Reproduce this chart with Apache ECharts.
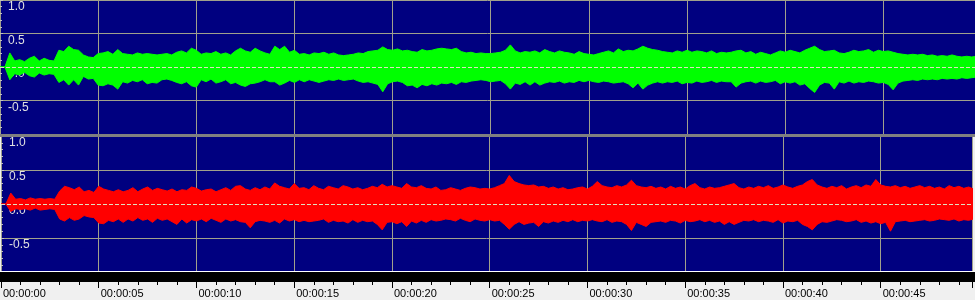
<!DOCTYPE html>
<html>
<head>
<meta charset="utf-8">
<script src="https://cdn.jsdelivr.net/npm/echarts@6/dist/echarts.min.js"></script>
<style>
html,body{margin:0;padding:0;background:#f0f0f0;}
#c{width:975px;height:300px;}
</style>
</head>
<body>
<div id="c"></div>
<script>
// seconds per envelope bin
const binSeconds = 0.25;
const timeMax = 49.67;
const tickSeconds = [0, 5, 10, 15, 20, 25, 30, 35, 40, 45];
const ampTicks = [-1, -0.5, 0, 0.5, 1];

// Left channel (green) envelope: peak and trough per bin
const leftUp = [
0, 0, 0.21, 0.09, 0.11, 0.08, 0.13, 0.16, 0.09, 0.13,
0.10, 0.09, 0.25, 0.23, 0.31, 0.26, 0.25, 0.18, 0.15, 0.14,
0.20, 0.21, 0.23, 0.19, 0.26, 0.20, 0.19, 0.18, 0.21, 0.19,
0.20, 0.19, 0.18, 0.19, 0.20, 0.18, 0.22, 0.24, 0.21, 0.28,
0.25, 0.19, 0.21, 0.20, 0.23, 0.19, 0.21, 0.18, 0.24, 0.28,
0.24, 0.22, 0.28, 0.24, 0.21, 0.19, 0.31, 0.26, 0.31, 0.22,
0.25, 0.19, 0.20, 0.18, 0.21, 0.20, 0.22, 0.19, 0.21, 0.18,
0.17, 0.18, 0.19, 0.21, 0.20, 0.23, 0.24, 0.25, 0.30, 0.26,
0.25, 0.27, 0.24, 0.25, 0.23, 0.22, 0.26, 0.24, 0.25, 0.27,
0.28, 0.27, 0.26, 0.28, 0.23, 0.21, 0.22, 0.20, 0.21, 0.20,
0.20, 0.21, 0.22, 0.25, 0.33, 0.24, 0.21, 0.23, 0.22, 0.24,
0.21, 0.26, 0.23, 0.21, 0.24, 0.22, 0.21, 0.19, 0.23, 0.20,
0.19, 0.18, 0.20, 0.22, 0.24, 0.21, 0.27, 0.23, 0.25, 0.24,
0.27, 0.31, 0.28, 0.26, 0.25, 0.23, 0.22, 0.21, 0.24, 0.22,
0.25, 0.22, 0.24, 0.23, 0.21, 0.24, 0.20, 0.22, 0.21, 0.22,
0.24, 0.25, 0.21, 0.23, 0.19, 0.22, 0.20, 0.18, 0.21, 0.24,
0.22, 0.25, 0.23, 0.21, 0.25, 0.28, 0.31, 0.26, 0.23, 0.24,
0.25, 0.21, 0.20, 0.22, 0.25, 0.23, 0.24, 0.26, 0.22, 0.25,
0.23, 0.24, 0.22, 0.20, 0.19, 0.18, 0.19, 0.18, 0.19, 0.17,
0.18, 0.16, 0.17, 0.16, 0.18, 0.16, 0.15, 0.16, 0.15, 0.16
];
const leftLo = [
0, 0, -0.19, -0.10, -0.12, -0.08, -0.13, -0.15, -0.09, -0.12,
-0.10, -0.11, -0.23, -0.19, -0.27, -0.19, -0.27, -0.14, -0.18, -0.17,
-0.27, -0.28, -0.25, -0.27, -0.33, -0.22, -0.24, -0.20, -0.22, -0.19,
-0.25, -0.23, -0.24, -0.19, -0.18, -0.20, -0.23, -0.25, -0.22, -0.28,
-0.30, -0.19, -0.22, -0.18, -0.24, -0.22, -0.19, -0.25, -0.23, -0.27,
-0.29, -0.25, -0.24, -0.22, -0.19, -0.22, -0.22, -0.27, -0.24, -0.20,
-0.23, -0.19, -0.22, -0.19, -0.21, -0.23, -0.21, -0.19, -0.20, -0.18,
-0.20, -0.19, -0.18, -0.21, -0.23, -0.22, -0.24, -0.26, -0.37, -0.25,
-0.22, -0.21, -0.23, -0.28, -0.27, -0.31, -0.26, -0.28, -0.25, -0.27,
-0.24, -0.25, -0.23, -0.26, -0.22, -0.23, -0.21, -0.20, -0.19, -0.20,
-0.22, -0.21, -0.20, -0.25, -0.33, -0.24, -0.26, -0.22, -0.27, -0.22,
-0.27, -0.24, -0.22, -0.23, -0.21, -0.24, -0.22, -0.23, -0.20, -0.22,
-0.20, -0.22, -0.23, -0.21, -0.22, -0.24, -0.23, -0.22, -0.25, -0.31,
-0.24, -0.33, -0.27, -0.24, -0.22, -0.24, -0.22, -0.23, -0.21, -0.25,
-0.23, -0.24, -0.21, -0.23, -0.22, -0.20, -0.23, -0.21, -0.22, -0.22,
-0.30, -0.24, -0.22, -0.21, -0.24, -0.21, -0.23, -0.22, -0.20, -0.25,
-0.22, -0.24, -0.22, -0.27, -0.25, -0.32, -0.38, -0.27, -0.23, -0.24,
-0.33, -0.22, -0.24, -0.21, -0.24, -0.22, -0.23, -0.21, -0.22, -0.24,
-0.23, -0.26, -0.34, -0.24, -0.21, -0.20, -0.19, -0.20, -0.18, -0.19,
-0.18, -0.19, -0.17, -0.18, -0.17, -0.18, -0.16, -0.17, -0.16, -0.15
];

// Right channel (red) envelope
const rightUp = [
0, 0, 0.16, 0.07, 0.08, 0.06, 0.09, 0.07, 0.08, 0.07,
0.08, 0.07, 0.19, 0.26, 0.24, 0.21, 0.25, 0.18, 0.20, 0.17,
0.26, 0.22, 0.20, 0.18, 0.21, 0.18, 0.20, 0.24, 0.18, 0.22,
0.25, 0.20, 0.23, 0.21, 0.19, 0.22, 0.18, 0.21, 0.20, 0.25,
0.23, 0.19, 0.21, 0.22, 0.18, 0.21, 0.24, 0.20, 0.26, 0.27,
0.22, 0.20, 0.24, 0.21, 0.25, 0.22, 0.31, 0.26, 0.24, 0.22,
0.30, 0.23, 0.24, 0.21, 0.27, 0.23, 0.21, 0.26, 0.24, 0.22,
0.27, 0.25, 0.22, 0.24, 0.21, 0.23, 0.26, 0.24, 0.29, 0.25,
0.27, 0.25, 0.23, 0.30, 0.25, 0.24, 0.27, 0.23, 0.22, 0.25,
0.20, 0.21, 0.24, 0.22, 0.20, 0.23, 0.25, 0.24, 0.22, 0.23,
0.22, 0.24, 0.27, 0.30, 0.42, 0.33, 0.30, 0.28, 0.27, 0.28,
0.25, 0.26, 0.23, 0.25, 0.22, 0.24, 0.21, 0.22, 0.24, 0.25,
0.22, 0.26, 0.33, 0.27, 0.25, 0.24, 0.27, 0.25, 0.28, 0.35,
0.27, 0.25, 0.24, 0.26, 0.23, 0.25, 0.22, 0.26, 0.23, 0.25,
0.22, 0.27, 0.30, 0.24, 0.22, 0.25, 0.23, 0.24, 0.26, 0.28,
0.30, 0.24, 0.22, 0.25, 0.23, 0.26, 0.24, 0.27, 0.23, 0.25,
0.28, 0.25, 0.23, 0.26, 0.28, 0.33, 0.36, 0.28, 0.25, 0.23,
0.26, 0.24, 0.27, 0.22, 0.25, 0.27, 0.24, 0.28, 0.26, 0.36,
0.28, 0.26, 0.25, 0.27, 0.24, 0.26, 0.23, 0.25, 0.27, 0.24,
0.26, 0.23, 0.25, 0.22, 0.27, 0.24, 0.26, 0.23, 0.25, 0.22
];
const rightLo = [
0, 0, -0.11, -0.07, -0.08, -0.07, -0.09, -0.06, -0.09, -0.08,
-0.07, -0.08, -0.22, -0.25, -0.20, -0.24, -0.22, -0.17, -0.19, -0.20,
-0.28, -0.29, -0.24, -0.26, -0.22, -0.27, -0.22, -0.25, -0.20, -0.24,
-0.22, -0.27, -0.21, -0.24, -0.22, -0.26, -0.30, -0.22, -0.28, -0.23,
-0.25, -0.22, -0.26, -0.21, -0.24, -0.27, -0.22, -0.25, -0.23, -0.26,
-0.27, -0.35, -0.26, -0.24, -0.25, -0.27, -0.24, -0.28, -0.22, -0.25,
-0.23, -0.26, -0.24, -0.26, -0.25, -0.24, -0.22, -0.27, -0.24, -0.26,
-0.25, -0.28, -0.23, -0.27, -0.24, -0.26, -0.25, -0.30, -0.38, -0.27,
-0.26, -0.29, -0.26, -0.33, -0.25, -0.28, -0.24, -0.27, -0.23, -0.25,
-0.24, -0.22, -0.23, -0.25, -0.21, -0.24, -0.26, -0.22, -0.24, -0.25,
-0.23, -0.25, -0.24, -0.30, -0.37, -0.30, -0.26, -0.30, -0.28, -0.27,
-0.33, -0.26, -0.28, -0.25, -0.27, -0.24, -0.26, -0.23, -0.26, -0.24,
-0.25, -0.23, -0.25, -0.26, -0.23, -0.27, -0.25, -0.26, -0.30, -0.39,
-0.27, -0.30, -0.33, -0.27, -0.26, -0.25, -0.27, -0.24, -0.25, -0.28,
-0.24, -0.26, -0.25, -0.23, -0.26, -0.24, -0.27, -0.25, -0.30, -0.26,
-0.30, -0.27, -0.24, -0.25, -0.23, -0.26, -0.24, -0.25, -0.27, -0.23,
-0.28, -0.25, -0.26, -0.24, -0.30, -0.33, -0.38, -0.30, -0.26, -0.27,
-0.25, -0.23, -0.24, -0.26, -0.25, -0.23, -0.27, -0.25, -0.28, -0.26,
-0.29, -0.27, -0.40, -0.26, -0.25, -0.24, -0.26, -0.25, -0.24, -0.23,
-0.25, -0.24, -0.22, -0.23, -0.24, -0.22, -0.25, -0.23, -0.24, -0.22
];

const NAVY = '#000080';
const GRID = '#a0a08c';
const FONT = '"Liberation Sans", Arial, sans-serif';

function pairs(arr) { return arr.map((v, i) => [i * binSeconds, v]); }
function hms(s) {
  const h = Math.floor(s / 3600), m = Math.floor(s / 60) % 60, sec = Math.round(s % 60);
  const p = n => String(n).padStart(2, '0');
  return p(h) + ':' + p(m) + ':' + p(sec);
}

function xAx(gi, withLabels) {
  return {
    type: 'value', gridIndex: gi, min: 0, max: timeMax, interval: 5,
    position: 'bottom', offset: withLabels ? 10 : 0,
    axisLine: { show: withLabels, onZero: false, lineStyle: { color: 'rgba(0,0,0,0)', width: 1 } },
    axisTick: { show: withLabels, inside: false, length: 6, lineStyle: { color: '#000', width: 1 } },
    minorTick: { show: withLabels, splitNumber: 5, length: 3, lineStyle: { color: '#000', width: 1 } },
    axisLabel: {
      show: withLabels, color: '#000', fontSize: 11, fontFamily: FONT,
      align: 'left', margin: 6, padding: [0, 0, 0, 2],
      formatter: v => tickSeconds.indexOf(Math.round(v * 1000) / 1000) >= 0 ? hms(v) : ''
    },
    splitLine: { show: true, lineStyle: { color: GRID, width: 1 } }
  };
}
function yAx(gi) {
  return {
    type: 'value', gridIndex: gi, min: ampTicks[0], max: ampTicks[ampTicks.length - 1], interval: 0.5,
    axisLine: { show: false },
    axisTick: { show: true, inside: true, length: 3, lineStyle: { color: '#c0c0c0' } },
    minorTick: { show: true, splitNumber: 5, length: 2, lineStyle: { color: '#c0c0c0' } },
    splitLine: { show: true, lineStyle: { color: [GRID, GRID, 'rgba(0,0,0,0)', GRID, GRID], width: 1 } },
    axisLabel: {
      inside: true, margin: 8, verticalAlign: 'top', padding: [1, 0, 0, 0],
      color: '#e0e0e0', fontSize: 12, fontFamily: FONT,
      formatter: v => v <= -1 ? '' : v.toFixed(1)
    }
  };
}
function wave(name, data, color, gi) {
  return {
    name: name, type: 'line', xAxisIndex: gi, yAxisIndex: gi, data: pairs(data),
    symbol: 'none', showSymbol: false, silent: true,
    lineStyle: { color: color, width: 1 },
    areaStyle: { color: color, opacity: 1, origin: 'auto' },
    z: 2
  };
}
function zeroLine(gi) {
  return {
    type: 'line', xAxisIndex: gi, yAxisIndex: gi, data: [], silent: true,
    markLine: {
      silent: true, symbol: ['none', 'none'], label: { show: false },
      lineStyle: { type: [4, 2], color: '#e0e0c0', width: 1 },
      data: [{ yAxis: 0 }], animation: false
    }
  };
}

const chart = echarts.init(document.getElementById('c'), null, { renderer: 'canvas' });
chart.setOption({
  animation: false,
  backgroundColor: '#f0f0f0',
  grid: [
    { left: -1, right: 0, top: 0, height: 134, show: true, backgroundColor: NAVY, borderWidth: 0 },
    { left: -1, right: 0, top: 136, height: 136, show: true, backgroundColor: NAVY, borderWidth: 0 }
  ],
  xAxis: [xAx(0, false), xAx(1, true)],
  yAxis: [yAx(0), yAx(1)],
  series: [
    wave('Left +', leftUp, '#00ff00', 0),
    wave('Left -', leftLo, '#00ff00', 0),
    wave('Right +', rightUp, '#ff0000', 1),
    wave('Right -', rightLo, '#ff0000', 1),
    zeroLine(0),
    zeroLine(1)
  ],
  graphic: [
    { type: 'rect', z: 100, shape: { x: 0, y: 134, width: 975, height: 3 }, style: { fill: '#808080' } },
    { type: 'rect', z: 100, shape: { x: 0, y: 271, width: 975, height: 1 }, style: { fill: '#ffffff' } },
    { type: 'rect', z: 100, shape: { x: 0, y: 272, width: 975, height: 10 }, style: { fill: '#000000' } }
  ]
});
</script>
</body>
</html>
